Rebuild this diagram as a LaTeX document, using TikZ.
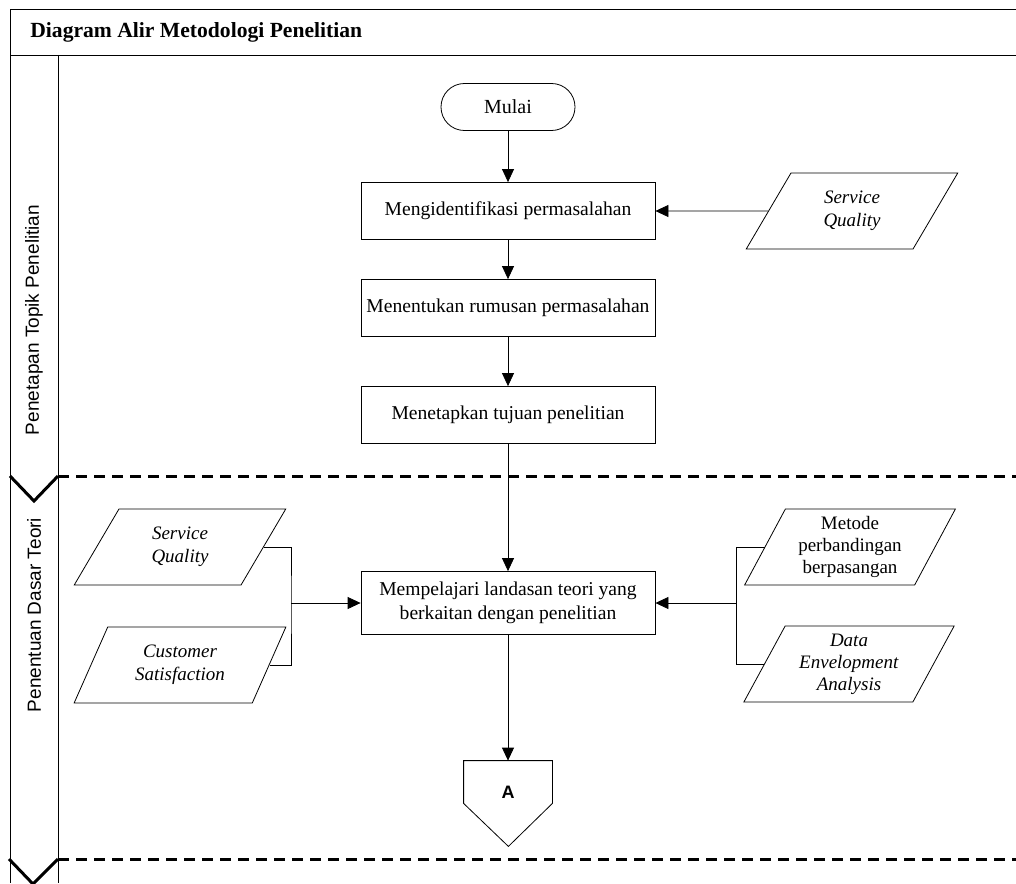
\documentclass[tikz,border=0pt]{standalone}
\usepackage{fontspec}
\setmainfont{Liberation Serif}
\newfontfamily\lanefont{Liberation Sans}
\usetikzlibrary{arrows.meta,shapes.geometric}

\begin{document}
\begin{tikzpicture}[x=0.5pt,y=-0.5pt,
	box/.style={draw, minimum width=147pt, minimum height=28.5pt, inner xsep=2pt, align=center, font=\fontsize{9.8}{11.7}\selectfont},
	io/.style={draw, trapezium, trapezium left angle=62, trapezium right angle=118, trapezium stretches=true, minimum width=106pt, minimum height=38pt, inner sep=0pt, align=center, font=\fontsize{9.5}{11.3}\selectfont},
	arr/.style={-{Triangle[length=6.5pt,width=6pt]}},
	lane/.style={rotate=90, font=\lanefont\fontsize{9.5}{11}\selectfont},
	sep/.style={line width=1.5pt, dash pattern=on 5.5pt off 3.5pt},
	chev/.style={line width=1.5pt}]

	\useasboundingbox (0,0) rectangle (1016,883);

	% frame and lanes
	\draw (1016,9) -- (10,9) -- (10,883);
	\draw (10,55) -- (1016,55);
	\draw (58,55) -- (58,883);
	\node[anchor=base west, inner sep=0pt, font=\fontsize{10.8}{13}\selectfont\bfseries] (judul) at (30,38) {Diagram Alir Metodologi Penelitian};

	\node[lane] (lane1) at (34,320) {Penetapan Topik Penelitian};
	\node[lane] (lane2) at (34,615) {Penentuan Dasar Teori};

	% lane borders
	\draw[sep] (58,476) -- (1016,476);
	\draw[chev] (10,476) -- (34,501) -- (58,476);
	\draw[sep] (58,859) -- (1016,859);
	\draw[chev] (9,859) -- (33,884) -- (58,859);

	% main flow
	\node[draw, rounded corners=11.7pt, minimum width=67pt, minimum height=23.5pt, font=\fontsize{10}{12}\selectfont] (mulai) at (508,107) {Mulai};
	\node[box] (ident) at (508,211) {Mengidentifikasi permasalahan};
	\node[box] (rumus) at (508,308) {Menentukan rumusan permasalahan};
	\node[box] (tujuan) at (508,415) {Menetapkan tujuan penelitian};
	\node[box, minimum height=31.5pt] (teori) at (508,603) {Mempelajari landasan teori yang\\berkaitan dengan penelitian};
	\node[minimum width=44pt, minimum height=21pt, inner ysep=0pt, text height=18.5pt, text depth=2.5pt, font=\lanefont\fontsize{9}{11}\selectfont\bfseries] (pageA) at (508,782) {A};
	\draw (pageA.south west) -- (pageA.north west) -- (pageA.north east) -- (pageA.south east) -- ++(-44,43) -- cycle;

	% inputs
	\node[io] (sqr) at (852,211) {\textit{Service}\\\textit{Quality}};
	\node[io] (sql) at (180,547) {\textit{Service}\\\textit{Quality}};
	\node[io] (cs) at (180,665) {\textit{Customer}\\\textit{Satisfaction}};
	\node[io, font=\fontsize{9.5}{11}\selectfont] (mpb) at (850,547) {Metode\\perbandingan\\berpasangan};
	\node[io, font=\fontsize{9.5}{11}\selectfont] (dea) at (849,664) {\textit{Data}\\\textit{Envelopment}\\\textit{Analysis}};

	\coordinate (jl) at (291,603);
	\coordinate (jr) at (736,603);

	% arrows
	\draw[arr] (mulai) -- (ident);
	\draw[arr] (ident) -- (rumus);
	\draw[arr] (rumus) -- (tujuan);
	\draw[arr] (tujuan) -- (teori);
	\draw[arr] (teori) -- (pageA);
	\draw[arr] (sqr.west) -- (ident.east);

	\draw (sql.east) -| (jl) |- (cs.east);
	\draw[arr] (jl) -- (teori.west);
	\draw (mpb.west) -| (jr) |- (dea.west);
	\draw[arr] (jr) -- (teori.east);

\end{tikzpicture}
\end{document}
